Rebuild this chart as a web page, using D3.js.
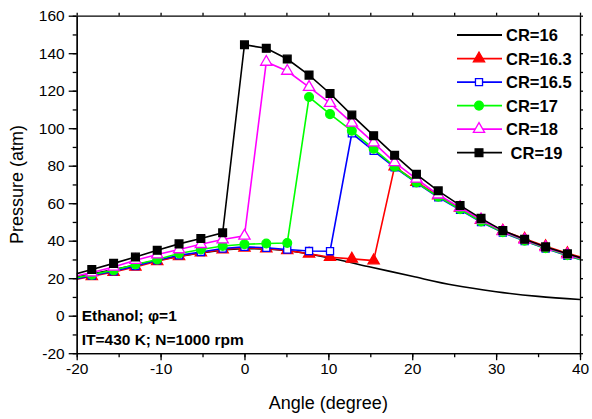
<!DOCTYPE html>
<html lang="en">
<head>
<meta charset="UTF-8">
<title>Pressure vs crank angle</title>
<style>
  body { margin: 0; background: #fff; }
  svg { display: block; font-family: 'Liberation Sans', Arial, sans-serif; }
  .axis path, .axis line { stroke: #000; stroke-width: 1.3px; }
  .axis text { font-size: 15.5px; fill: #000; }
</style>
</head>
<body>
<svg width="592" height="419"></svg>

<script src="https://d3js.org/d3.v7.min.js"></script>
<script>
  // crank angles of the sampled points (deg)
  const angles = [-20.8, -18.2, -15.6, -13.0, -10.4, -7.8, -5.2, -2.6, 0, 2.6, 5.1, 7.7, 10.2,
                  12.8, 15.4, 17.9, 20.5, 23.1, 25.7, 28.2, 30.8, 33.4, 35.9, 38.5, 41.1];

  // pressure (atm) for each compression ratio
  const cr163 = [18.8, 21.0, 23.3, 26.0, 29.0, 31.7, 33.6, 35.3, 36.2, 35.8, 34.8, 33.0, 31.2,
                 30.3, 29.4, 79.5, 71.3, 64.0, 57.5, 51.0, 45.3, 41.0, 37.0, 33.3, 30.0];
  const cr165 = [19.0, 21.4, 23.7, 26.5, 29.6, 32.2, 34.0, 35.8, 36.7, 36.2, 35.3, 34.5, 34.4,
                 97.3, 87.9, 79.1, 70.8, 63.2, 56.5, 50.0, 44.3, 39.8, 35.8, 32.0, 28.5];
  const cr17  = [19.5, 21.9, 24.2, 27.3, 30.0, 33.2, 35.3, 37.2, 38.1, 38.5, 38.8, 116.6, 107.5,
                 98.6, 89.0, 79.5, 71.0, 63.5, 56.8, 50.2, 44.5, 40.0, 36.0, 32.2, 28.5];
  const cr18  = [20.5, 23.0, 26.0, 29.6, 32.6, 35.3, 38.1, 40.6, 42.6, 135.3, 130.5, 121.9, 113.4,
                 102.8, 92.3, 81.8, 73.0, 64.5, 57.8, 51.2, 45.0, 40.4, 36.4, 32.6, 29.0];
  const cr19  = [21.4, 24.6, 27.9, 31.3, 34.9, 38.3, 41.2, 44.2, 144.5, 142.6, 136.9, 128.3, 118.5,
                 107.0, 96.0, 85.6, 75.4, 66.6, 58.8, 51.9, 45.4, 40.8, 36.7, 33.0, 29.5];

  // motored curve (CR=16), no markers
  const cr16Angle = [-20, -15, -10, -5, 0, 5, 10, 15, 20, 25, 30, 35, 40];
  const cr16      = [20.6, 25.2, 29.8, 33.6, 35.8, 34.8, 30.9, 26.0, 21.0, 16.2, 12.8, 10.3, 8.6];

  const legendLabels = ["CR=16", "CR=16.3", "CR=16.5", "CR=17", "CR=18", " CR=19"];
  const xTicks = [-20, -10, 0, 10, 20, 30, 40];
  const yTicks = [-20, 0, 20, 40, 60, 80, 100, 120, 140, 160];

  const svg = d3.select("svg");
  const pl = 76.7, pr = 580, pt = 15.7, pb = 353.2;

  const x = d3.scaleLinear().domain([-20, 40]).range([pl, pr]);
  const y = d3.scaleLinear().domain([-20, 160]).range([pb, pt]);

  svg.append("clipPath").attr("id", "plot")
    .append("rect").attr("x", pl).attr("y", pt)
    .attr("width", pr - pl).attr("height", pb - pt);

  const series = [
    { vals: cr163, color: "#ff0000", shape: d3.symbolTriangle, size: 55, fill: true },
    { vals: cr165, color: "#0000ff", shape: d3.symbolSquare, size: 50, fill: false },
    { vals: cr17,  color: "#00ff00", shape: d3.symbolCircle, size: 60, fill: true },
    { vals: cr18,  color: "#ff00ff", shape: d3.symbolTriangle, size: 55, fill: false },
    { vals: cr19,  color: "#000000", shape: d3.symbolSquare, size: 60, fill: true }
  ];

  const g = svg.append("g").attr("clip-path", "url(#plot)");

  const smooth = d3.line().x((d, i) => x(cr16Angle[i])).y(d => y(d)).curve(d3.curveMonotoneX);
  g.append("path").attr("d", smooth(cr16))
    .attr("fill", "none").attr("stroke", "#000").attr("stroke-width", 1.6);

  const line = d3.line().x((d, i) => x(angles[i])).y(d => y(d));

  series.forEach(s => {
    g.append("path").attr("d", line(s.vals))
      .attr("fill", "none").attr("stroke", s.color).attr("stroke-width", 1.6);
    g.selectAll(null).data(s.vals).enter().append("path")
      .attr("d", d3.symbol().type(s.shape).size(s.size))
      .attr("transform", (d, i) => `translate(${x(angles[i])},${y(d)})`)
      .attr("fill", s.fill ? s.color : "#fff")
      .attr("stroke", s.color).attr("stroke-width", 1.3);
  });

  // axes (plain hyphen for negatives, like the original)
  const fmt = d => String(d);
  const minorX = d3.range(-20, 41, 5), minorY = d3.range(-20, 161, 10);

  svg.append("g").attr("class", "axis").attr("transform", `translate(0,${pb})`)
    .call(d3.axisBottom(x).tickValues(minorX).tickFormat("").tickSize(4).tickSizeOuter(0));
  svg.append("g").attr("class", "axis").attr("transform", `translate(0,${pb})`)
    .call(d3.axisBottom(x).tickValues(xTicks).tickFormat(fmt).tickSize(7).tickSizeOuter(0).tickPadding(3));

  svg.append("g").attr("class", "axis").attr("transform", `translate(0,${pt})`)
    .call(d3.axisTop(x).tickValues(minorX).tickFormat("").tickSize(3).tickSizeOuter(0));

  svg.append("g").attr("class", "axis").attr("transform", `translate(${pl},0)`)
    .call(d3.axisLeft(y).tickValues(minorY).tickFormat("").tickSize(4).tickSizeOuter(0));
  svg.append("g").attr("class", "axis").attr("transform", `translate(${pl},0)`)
    .call(d3.axisLeft(y).tickValues(yTicks).tickFormat(fmt).tickSize(8).tickSizeOuter(0).tickPadding(4));

  svg.append("g").attr("class", "axis").attr("transform", `translate(${pr},0)`)
    .call(d3.axisRight(y).tickValues(minorY).tickFormat("").tickSize(3).tickSizeOuter(0));

  // axis titles
  svg.append("text").attr("x", (pl + pr) / 2).attr("y", 409)
    .attr("text-anchor", "middle").attr("font-size", 18).text("Angle (degree)");
  svg.append("text").attr("transform", `translate(23,${(pt + pb) / 2}) rotate(-90)`)
    .attr("text-anchor", "middle").attr("font-size", 18).text("Pressure (atm)");

  // legend
  const legendShapes = [null].concat(series);
  const ly = d3.scaleLinear().domain([0, 5]).range([35, 152.7]);
  const lg = svg.append("g");
  legendLabels.forEach((label, i) => {
    const s = legendShapes[i];
    const color = s ? s.color : "#000";
    lg.append("line").attr("x1", 457).attr("x2", 502).attr("y1", ly(i)).attr("y2", ly(i))
      .attr("stroke", color).attr("stroke-width", 1.8);
    if (s) {
      lg.append("path").attr("d", d3.symbol().type(s.shape).size(s.size))
        .attr("transform", `translate(479,${ly(i)})`)
        .attr("fill", s.fill ? s.color : "#fff")
        .attr("stroke", s.color).attr("stroke-width", 1.3);
    }
    lg.append("text").attr("x", 506).attr("y", ly(i) + 6)
      .attr("font-size", 16.5).attr("font-weight", "bold")
      .style("white-space", "pre").text(label);
  });

  // condition notes
  svg.append("text").attr("x", 81.7).attr("y", 320.7)
    .attr("font-size", 15.5).attr("font-weight", "bold").text("Ethanol; \u03c6=1");
  svg.append("text").attr("x", 81.7).attr("y", 345)
    .attr("font-size", 15.5).attr("font-weight", "bold").text("IT=430 K; N=1000 rpm");
</script>
</body>
</html>
